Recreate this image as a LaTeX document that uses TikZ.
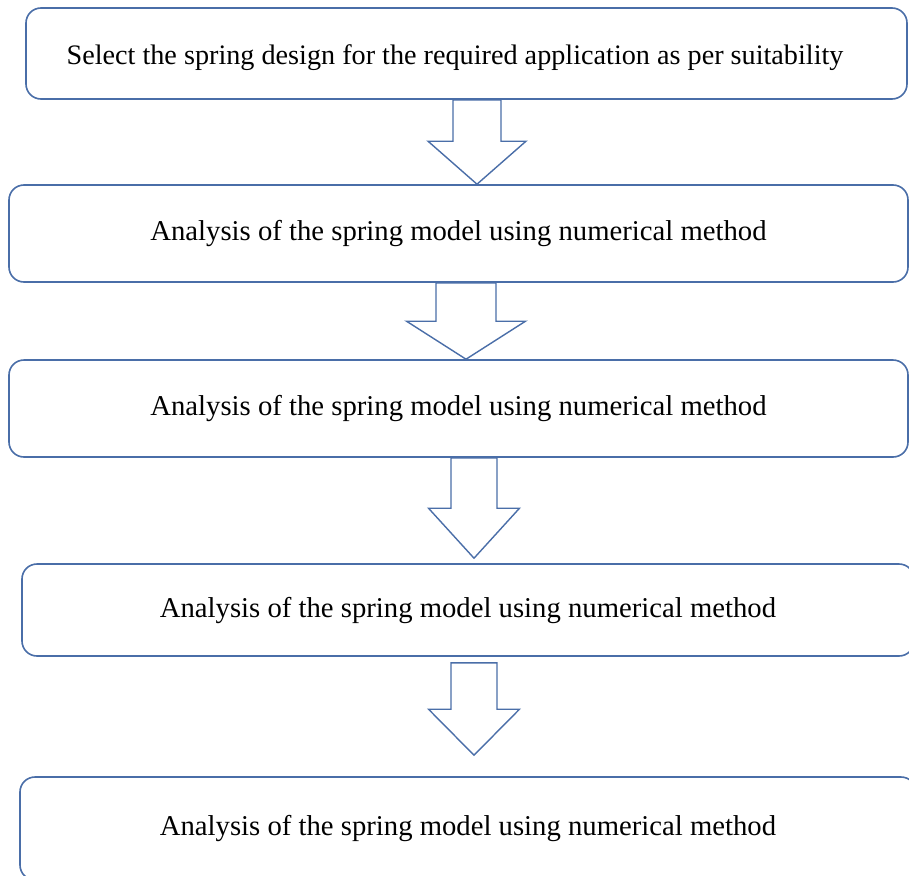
\documentclass[tikz,border=0pt]{standalone}
\usepackage{fontspec}
\setmainfont{Liberation Serif}
\usetikzlibrary{calc}
\definecolor{boxblue}{RGB}{74,110,168}
\tikzset{
  stepbox/.style={draw=boxblue, line width=1.6pt, rounded corners=15pt, fill=white,
    inner sep=0pt, font=\fontsize{28.7}{34}\selectfont},
  blockline/.style={draw=boxblue, line width=1.4pt, fill=white, line join=miter}
}
% #1 top, #2 tip, #3 half shaft, #4 half wing, #5 head length
\newcommand{\blockarrow}[5]{%
  \draw[blockline] ($(#1)+(-#3,0)$) -- ($(#2)+(-#3,-#5)$) -- ($(#2)+(-#4,-#5)$)
    -- (#2) -- ($(#2)+(#4,-#5)$) -- ($(#2)+(#3,-#5)$) -- ($(#1)+(#3,0)$) -- cycle;}
\begin{document}
\begin{tikzpicture}[x=1pt,y=-1pt]
    \useasboundingbox (0,0) rectangle (909,875);
    \clip (0,0) rectangle (909,875);
    \node[stepbox, minimum width=881pt, minimum height=91pt, font=\fontsize{28.2}{34}\selectfont] (select) at (466.5,53.5)
        {\hspace*{-23pt}\raisebox{-11pt}[0pt][0pt]{Select the spring design for the required application as per suitability}};
    \node[stepbox, minimum width=899pt, minimum height=97pt] (modelA) at (458.5,233.5)
        {Analysis of the spring model using numerical method};
    \node[stepbox, minimum width=899pt, minimum height=97pt] (modelB) at (458.5,408.5)
        {Analysis of the spring model using numerical method};
    \node[stepbox, minimum width=892pt, minimum height=92pt] (modelC) at (468,610)
        {Analysis of the spring model using numerical method};
    \node[stepbox, minimum width=896pt, minimum height=103pt] (modelD) at (468,828.5)
        {Analysis of the spring model using numerical method};
    % block arrows
    \coordinate (top1) at (477,0 |- select.south);
    \coordinate (tip1) at (477,0 |- modelA.north);
    \coordinate (top2) at (466,0 |- modelA.south);
    \coordinate (tip2) at (466,0 |- modelB.north);
    \coordinate (top3) at (474,0 |- modelB.south);
    \coordinate (tip3) at ($(474,0 |- modelC.north)+(0,-5)$);
    \coordinate (top4) at ($(474,0 |- modelC.south)+(0,6)$);
    \coordinate (tip4) at ($(474,0 |- modelD.north)+(0,-21)$);
    \blockarrow{top1}{tip1}{24}{49}{43}
    \blockarrow{top2}{tip2}{30}{59.5}{38}
    \blockarrow{top3}{tip3}{23}{45.5}{50}
    \blockarrow{top4}{tip4}{23}{45.5}{46}
\end{tikzpicture}
\end{document}
